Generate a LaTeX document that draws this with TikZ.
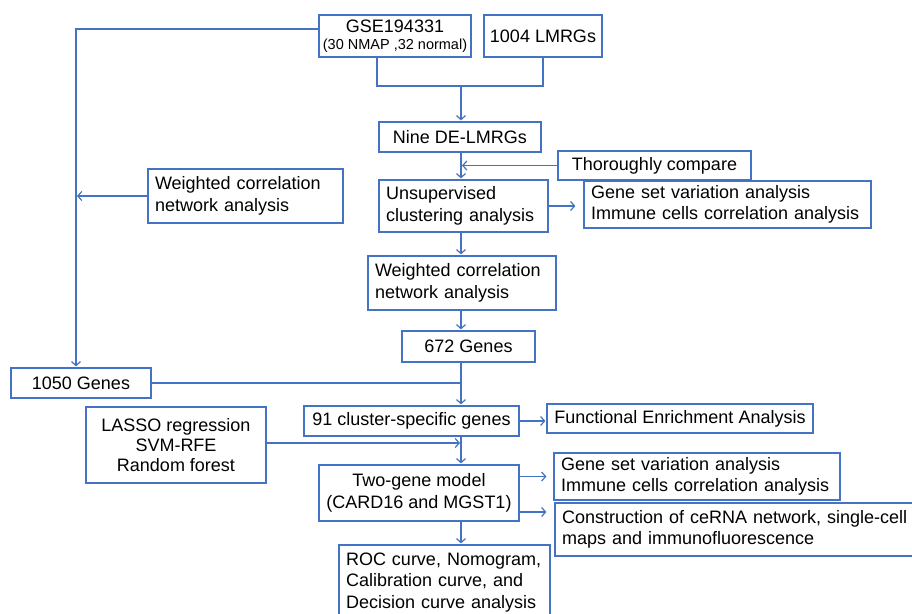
\documentclass[tikz,border=0pt]{standalone}
\usepackage{fontspec}
\setmainfont{Liberation Sans}
\usetikzlibrary{arrows.meta}
\definecolor{flowblue}{RGB}{68,114,196}

\begin{document}
\begin{tikzpicture}[x=1pt,y=1pt,
		box/.style={draw=flowblue,line width=1.2pt,font=\fontsize{18}{21.5}\selectfont,inner sep=0pt,align=center},
		lbox/.style={box,align=left,inner xsep=7pt,text width=#1},
		link/.style={draw=flowblue,line width=1.2pt},
		arr/.style={link,-{Straight Barb[length=4pt,width=9pt]},shorten >=1pt}]
			\useasboundingbox (0,0) rectangle (912,-613);
			\clip (0,0) rectangle (912,-613);
			\coordinate (sp) at (461,0);
			\coordinate (lv) at (76,0);
			\coordinate (jn) at (461,-86);
			\node[box,minimum width=152pt,minimum height=42pt] (gse) at (395,-36) {GSE194331\\[-4pt]{\fontsize{14.5}{16}\selectfont(30 NMAP ,32 normal)}};
			\node[box,minimum width=118pt,minimum height=42pt] (lmrg) at (543,-36) {1004 LMRGs};
			\node[box,minimum width=162pt,minimum height=30pt] (nine) at (460,-137) {Nine DE-LMRGs};
			\node[box,minimum width=193pt,minimum height=29pt] (thor) at (654.5,-165.5) {Thoroughly compare};
			\node[lbox=155pt,minimum height=52pt] (uns) at (463.5,-206) {Unsupervised\\clustering analysis};
			\node[lbox=273pt,minimum height=47pt] (gsv1) at (727.5,-204.5) {Gene set variation analysis\\Immune cells correlation analysis};
			\node[lbox=181pt,minimum height=54pt] (wgl) at (245.5,-196) {Weighted correlation\\network analysis};
			\node[lbox=174pt,minimum height=54pt] (wgc) at (462,-283) {Weighted correlation\\network analysis};
			\node[box,minimum width=133pt,minimum height=31pt] (g672) at (468.5,-346.5) {672 Genes};
			\node[box,minimum width=140pt,minimum height=30pt] (g1050) at (81,-383) {1050 Genes};
			\node[box,minimum width=215pt,minimum height=30pt] (g91) at (411.5,-421) {91 cluster-specific genes};
			\node[box,minimum width=266pt,minimum height=29pt] (fea) at (680,-418.5) {Functional Enrichment Analysis};
			\node[box,minimum width=180pt,minimum height=76pt,font=\fontsize{18}{20}\selectfont] (lasso) at (176,-445) {LASSO regression\\SVM-RFE\\Random forest};
			\node[box,minimum width=200pt,minimum height=56pt] (two) at (419,-493) {Two-gene model\\(CARD16 and MGST1)};
			\node[lbox=272pt,minimum height=47pt] (gsv2) at (697,-476.5) {Gene set variation analysis\\Immune cells correlation analysis};
			\node[lbox=351pt,minimum height=53pt] (cons) at (737.5,-529.5) {Construction of ceRNA network, single-cell\\maps and immunofluorescence};
			\node[lbox=197pt,minimum height=75pt] (roc) at (444.5,-582.5) {ROC curve, Nomogram,\\Calibration curve, and\\Decision curve analysis};
			\draw[link] ([xshift=-18pt]gse.south) |- (jn) -| (lmrg.south);
			\draw[arr] (jn) -- (nine.north -| jn);
			\draw[arr] ([yshift=7pt]gse.west) -| (g1050.north -| lv);
			\draw[arr] (wgl.west) -- (wgl.west -| lv);
			\draw[arr] (nine.south -| sp) -- (uns.north -| sp);
			\draw[arr] (thor.west) -- (thor.west -| sp);
			\draw[arr,shorten >=8pt] (uns.east) -- (uns.east -| gsv1.west);
			\draw[arr] (uns.south -| sp) -- (wgc.north -| sp);
			\draw[arr] (wgc.south -| sp) -- (g672.north -| sp);
			\draw[arr] (g672.south -| sp) -- (g91.north -| sp);
			\draw[link] (g1050.east) -- (g1050.east -| sp);
			\draw[arr] (g91.east) -- (g91.east -| fea.west);
			\draw[arr] (g91.south -| sp) -- (two.north -| sp);
			\draw[arr] ([yshift=2pt]lasso.east) -- ([yshift=2pt]lasso.east -| sp);
			\draw[arr,shorten >=7pt] (two.east |- gsv2.west) -- (gsv2.west);
			\draw[arr,shorten >=8pt] ([yshift=-19pt]two.east) -- ([yshift=-19pt]two.east -| cons.west);
			\draw[arr] (two.south -| sp) -- (roc.north -| sp);
		\end{tikzpicture}
\end{document}
